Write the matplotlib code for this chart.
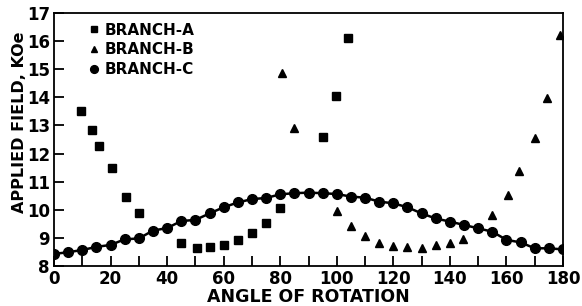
import matplotlib
matplotlib.use("Agg")
import matplotlib.pyplot as plt

# Branch C (measured points, every 5 deg) - solid curve through them
angle_c = list(range(0, 181, 5))
field_c = [8.43, 8.49, 8.57, 8.68, 8.75, 8.95, 8.98, 9.26, 9.35, 9.60,
           9.64, 9.87, 10.09, 10.26, 10.38, 10.42, 10.55, 10.59, 10.61, 10.59,
           10.56, 10.47, 10.43, 10.29, 10.23, 10.09, 9.87, 9.69, 9.58, 9.46,
           9.34, 9.22, 8.93, 8.84, 8.63, 8.63, 8.59]

# Branch A
angle_a = [9.5, 13.5, 16, 20.5, 25.5, 30, 45, 50.5, 55, 60, 65, 70, 75, 80, 95, 99.6, 104]
field_a = [13.52, 12.84, 12.27, 11.48, 10.47, 9.87, 8.81, 8.63, 8.66, 8.75,
           8.93, 9.19, 9.52, 10.05, 12.6, 14.03, 16.12]

# Branch B
angle_b = [80.5, 85, 100, 105, 110, 115, 120, 125, 130, 135, 140, 144.5,
           155, 160.5, 164.5, 170, 174.5, 179]
field_b = [14.86, 12.9, 9.96, 9.42, 9.07, 8.81, 8.71, 8.66, 8.65, 8.75,
           8.81, 8.96, 9.81, 10.53, 11.39, 12.54, 13.99, 16.22]

xticks = list(range(0, 181, 10))
xlabels = [str(v) if v % 20 == 0 else "" for v in xticks]
yticks = list(range(8, 18))

plt.rcParams["font.family"] = "DejaVu Sans"
plt.rcParams["font.weight"] = "bold"

fig = plt.figure(figsize=(5.82, 3.06), dpi=100)
ax = fig.add_axes([0.0928, 0.1307, 0.8746, 0.8268])

ax.plot(angle_c, field_c, "-", color="black", lw=1.8, zorder=2)
ax.plot(angle_c, field_c, "o", color="black", ms=7, zorder=3, label="BRANCH-C")
ax.plot(angle_a, field_a, "s", color="black", ms=5.5, zorder=3, label="BRANCH-A")
ax.plot(angle_b, field_b, "^", color="black", ms=6, zorder=3, label="BRANCH-B")

ax.set_xlim(0, 180)
ax.set_ylim(8, 17)
ax.set_xticks(xticks)
ax.set_xticklabels(xlabels)
ax.set_yticks(yticks)
ax.tick_params(axis="both", direction="in", length=7, width=1.3, labelsize=12)
ax.tick_params(axis="x", pad=3)
ax.tick_params(axis="y", pad=3)
for s in ax.spines.values():
    s.set_linewidth(1.3)

ax.set_xlabel("ANGLE OF ROTATION", fontsize=12.5, fontweight="bold", labelpad=0)
ax.set_ylabel("APPLIED FIELD, KOe", fontsize=11.5, fontweight="bold")
ax.yaxis.set_label_coords(-0.053, 0.57)

h, l = ax.get_legend_handles_labels()
order = [1, 2, 0]
ax.legend([h[i] for i in order], [l[i] for i in order], loc="upper left",
          bbox_to_anchor=(0.04, 1.01), frameon=False, fontsize=11,
          handletextpad=0.2, labelspacing=0.3, handlelength=1.0,
          borderpad=0.3, markerscale=0.8)

fig.savefig("out.png", dpi=100)
